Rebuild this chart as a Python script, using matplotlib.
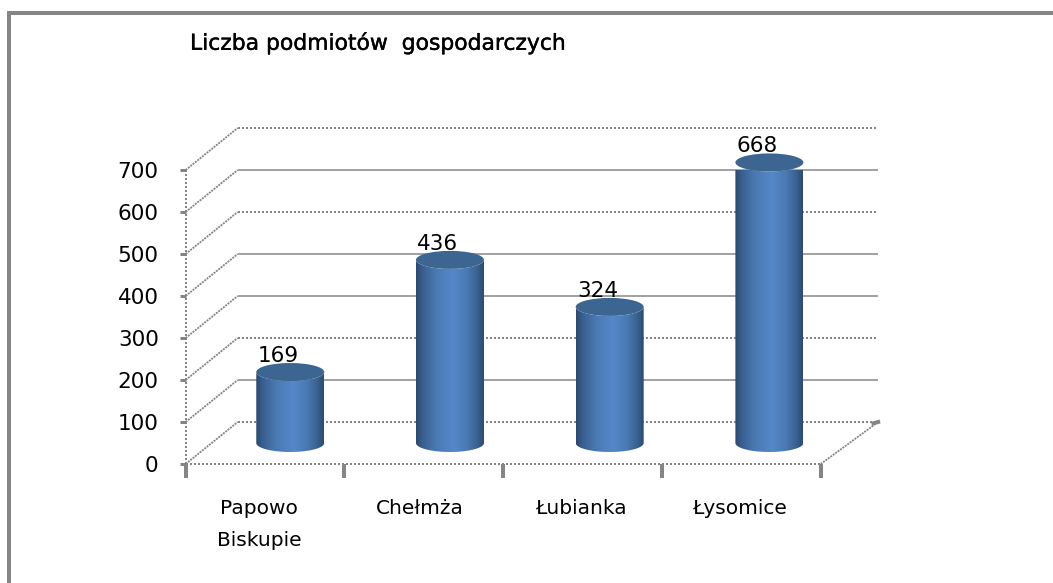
import numpy as np
import matplotlib
matplotlib.use("Agg")
import matplotlib.pyplot as plt
import matplotlib.patheffects as pe
from matplotlib.colors import LinearSegmentedColormap
from matplotlib.lines import Line2D
from matplotlib.patches import Ellipse, PathPatch
from matplotlib.path import Path
from matplotlib.transforms import ScaledTranslation

title = "Liczba podmiotów  gospodarczych"
categories = ["Papowo\nBiskupie", "Chełmża", "Łubianka", "Łysomice"]
values = [169, 436, 324, 668]
y_ticks = [0, 100, 200, 300, 400, 500, 600, 700]
solid_levels = [100, 300, 400, 600]

W, H = 1053, 583
plt.rcParams["lines.scale_dashes"] = False
plt.rcParams["font.family"] = "DejaVu Sans"
fig = plt.figure(figsize=(W / 100, H / 100), dpi=100, facecolor="white")
GRAY = "#858585"
PX = 0.72

# frame on top and left of the picture
fig.add_artist(Line2D([9 / W, 9 / W, 1], [0, 1 - 13 / H, 1 - 13 / H], color=GRAY,
                      lw=4 * PX, solid_joinstyle="miter", solid_capstyle="butt"))
fig.text(190 / W, 1 - 43 / H, title, fontsize=15.75, va="center", ha="left", color="black",
         path_effects=[pe.withStroke(linewidth=0.3, foreground="black")])

L, R, B, T = 185.7, 820.7, 464, 170
ax = fig.add_axes([L / W, 1 - B / H, (R - L) / W, (B - T) / H])
ax.set_xlim(-0.5, 3.5)
ax.set_ylim(0, 700)
for s in ax.spines.values():
    s.set_visible(False)
ax.patch.set_alpha(0)

ux = (R - L) / 4      # px per category
uy = (B - T) / 700    # px per value
DX, DY = 52 / ux, 42 / uy   # depth of the box in data units
DXR = 57.5 / ux             # the right end of the back wall sits slightly further out
dash = (0, (2 * PX, 2 * PX))
diag = (0, (2 * PX, 1 * PX))
x0, x1 = ax.get_xlim()

# back wall gridlines, side wall diagonals, floor
for lv in y_ticks:
    kw = dict(color=GRAY, clip_on=False, zorder=1, solid_capstyle="butt", dash_capstyle="butt")
    if lv in solid_levels:
        ax.plot([x0 + DX, x1 + DXR], [lv + DY] * 2, lw=1.5 * PX, **kw)
    else:
        ax.plot([x0 + DX, x1 + DXR], [lv + DY] * 2, lw=2 * PX, ls=dash, **kw)
    ax.plot([x0, x0 + DX], [lv, lv + DY], lw=1.8 * PX, ls=diag, **kw)
ax.plot([x1, x1 + DXR], [0, DY], lw=1.8 * PX, ls=diag, color=GRAY, clip_on=False, zorder=1)
ax.plot([x1 + DXR - 0.03, x1 + DXR], [DY - 3, DY], lw=4 * PX, color=GRAY, clip_on=False, zorder=1)
ax.plot([x0, x1], [0, 0], lw=2 * PX, ls=dash, color=GRAY, clip_on=False, zorder=1, dash_capstyle="butt")
ax.plot([x0, x0], [0, 700], lw=2 * PX, ls=dash, color=GRAY, clip_on=False, zorder=1, dash_capstyle="butt")

# cylinders
cmap = LinearSegmentedColormap.from_list("cyl", [
    (0.00, "#2a4a70"), (0.10, "#3a6090"), (0.30, "#4a7ab5"), (0.55, "#5588c8"),
    (0.75, "#4a79b4"), (0.90, "#3b6290"), (1.00, "#2c4c74")])
grad = np.linspace(0, 1, 128)[None, :]
hw, hh = 34 / ux, 9 / uy
base = DY / 2
xs = np.arange(len(values))
theta = np.linspace(0, np.pi, 60)
for x, v in zip(xs * 1.006 + DX / 2 - 0.005, values):
    top = base + v
    arc_x = x + hw * np.cos(theta)
    verts = np.r_[np.c_[arc_x, base - hh * np.sin(theta)],
                  np.c_[arc_x[::-1], top - hh * np.sin(theta[::-1])]]
    body = PathPatch(Path(np.r_[verts, verts[:1]]), transform=ax.transData, fc="none", ec="none")
    ax.add_patch(body)
    im = ax.imshow(grad, extent=[x - hw, x + hw, base - hh, top + hh], cmap=cmap,
                   aspect="auto", zorder=3, origin="lower")
    im.set_clip_path(body)
    ax.add_patch(Ellipse((x, top), 2 * hw, 2 * hh, fc="#3d6592", ec="none", zorder=4, clip_on=False))
    ax.annotate(str(v), (x, top), xytext=(-12 * 0.72, 16 * 0.72),
                textcoords="offset points", ha="center", va="center",
                fontsize=15.5, color="black", zorder=5, annotation_clip=False)
ax.set_xlim(x0, x1)
ax.set_ylim(0, 700)

# axes ticks
ax.set_yticks(y_ticks)
ax.tick_params(axis="y", length=6 * 0.72, width=3 * PX, color=GRAY, pad=21 * 0.72,
               labelsize=15.5, labelcolor="black")
ax.set_xticks(xs)
ax.set_xticklabels(categories)
ax.set_xticks(np.arange(x0, x1 + 1), minor=True)
ax.tick_params(axis="x", which="major", length=0, pad=35 * 0.72, labelsize=14.5, labelcolor="black")
ax.tick_params(axis="x", which="minor", length=14 * 0.72, width=4 * PX, color=GRAY)
for lab, off in zip(ax.get_xticklabels(), [-6, -4, -2, -2]):
    lab.set_transform(lab.get_transform() + ScaledTranslation(off / 100, 0, fig.dpi_scale_trans))
    lab.set_linespacing(1.85)

fig.savefig("out.png", dpi=100, facecolor="white")
